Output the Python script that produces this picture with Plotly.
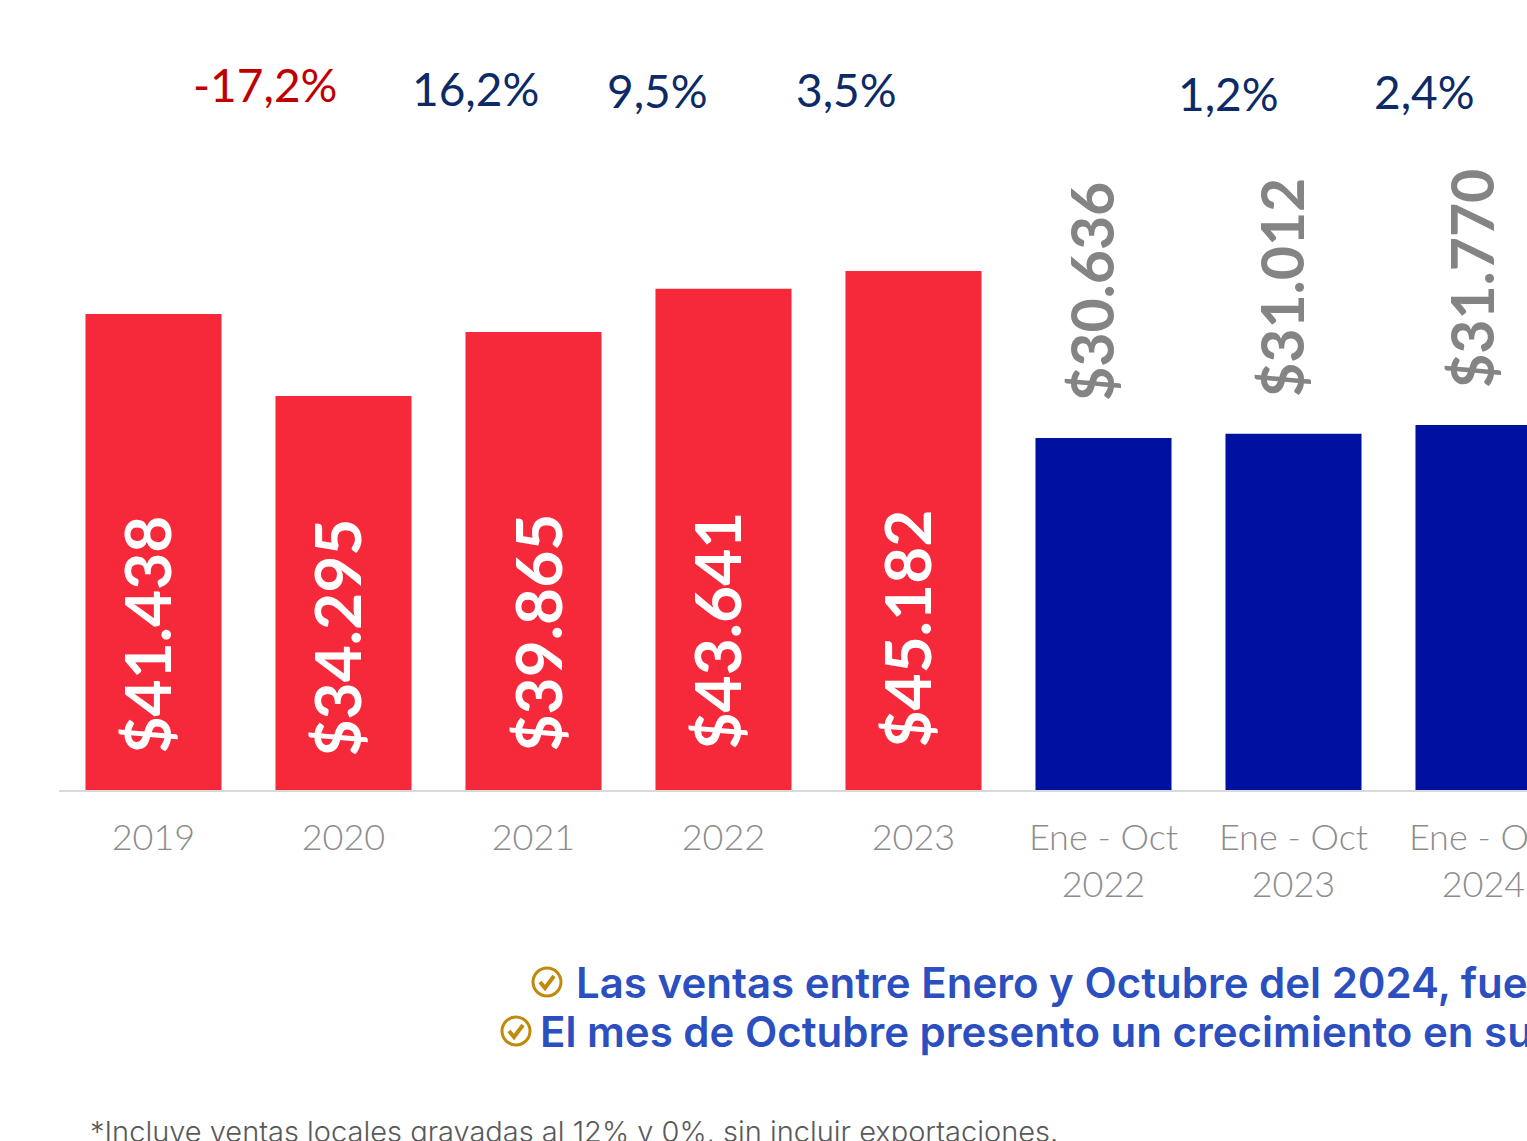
import plotly.graph_objects as go

W, H = 1527, 1141
L, BASE = 59, 790
PW = W - L

categories = ["2019", "2020", "2021", "2022", "2023", "Ene - Oct<br>2022", "Ene - Oct<br>2023", "Ene - Oct<br>2024"]
annual_values = [41438, 34295, 39865, 43641, 45182, None, None, None]
ytd_values = [None, None, None, None, None, 30636, 31012, 31770]
value_labels = ["$41.438", "$34.295", "$39.865", "$43.641", "$45.182", "$30.636", "$31.012", "$31.770"]
growth_labels = ["-17,2%", "16,2%", "9,5%", "3,5%", "1,2%", "2,4%"]
notes = ["Las ventas entre Enero y Octubre del 2024, fue",
         "El mes de Octubre presento un crecimiento en su"]
footnote = "*Incluye ventas locales gravadas al 12% y 0%, sin incluir exportaciones."

RED, BLUE = "#F5293A", "#0010A0"
NAVY, DARKRED = "#0B2A66", "#C00000"
GREY, TICK, GOLD, NOTE = "#848484", "#8C8C8C", "#C08A0A", "#2C4FBF"
FONT = "Lato"


def px(x):
    return (x - L) / PW


def py(y):
    return (BASE - y) / BASE


fig = go.Figure()
for vals, col in ((annual_values, RED), (ytd_values, BLUE)):
    fig.add_bar(x=categories, y=vals, marker=dict(color=col, line_width=0), width=0.716, showlegend=False)

annotations = []
label_dx = [-8, -8, 3, -8, -8, -12, -12, -12]
label_bottom = [756, 759, 754, 752, 750, 403, 399, 390]
for i, lab in enumerate(value_labels):
    annotations.append(dict(
        x=i, y=0, xref="x", yref="y", text=lab, textangle=-90, showarrow=False,
        xanchor="center", yanchor="bottom", xshift=label_dx[i], yshift=BASE - label_bottom[i],
        font=dict(family=FONT, size=64 if i < 5 else 59, weight=700, color="white" if i < 5 else GREY),
    ))

growth_x = [265, 475, 657, 846, 1228, 1424]
growth_y = [84, 88, 90, 89, 94, 92]
for i, lab in enumerate(growth_labels):
    annotations.append(dict(
        x=px(growth_x[i]), y=py(growth_y[i]), xref="paper", yref="paper", text=lab, showarrow=False,
        xanchor="center", yanchor="middle",
        font=dict(family=FONT, size=46, weight=400, color=DARKRED if i == 0 else NAVY),
    ))

annotations.append(dict(x=px(574), y=py(982), xref="paper", yref="paper", text=notes[0], showarrow=False,
                        xanchor="left", yanchor="middle", font=dict(family="Inter", size=42, weight=600, color=NOTE)))
annotations.append(dict(x=px(538), y=py(1031), xref="paper", yref="paper", text=notes[1], showarrow=False,
                        xanchor="left", yanchor="middle", font=dict(family="Inter", size=42, weight=600, color=NOTE)))
annotations.append(dict(x=px(88), y=py(1131), xref="paper", yref="paper", text=footnote, showarrow=False,
                        xanchor="left", yanchor="middle", font=dict(family="Inter", size=29, weight=300, color="#595959")))

shapes = []
for cx, cy in ((547, 982), (516, 1031)):
    shapes.append(dict(type="circle", xref="paper", yref="paper", x0=px(cx - 14), x1=px(cx + 14),
                       y0=py(cy + 14), y1=py(cy - 14), line=dict(color=GOLD, width=3)))
    shapes.append(dict(type="path", xref="paper", yref="paper",
                       path=f"M {px(cx-7)} {py(cy)} L {px(cx-2)} {py(cy+6)} L {px(cx+7)} {py(cy-6)}",
                       line=dict(color=GOLD, width=4)))

fig.update_layout(
    width=W, height=H, margin=dict(l=L, r=0, t=0, b=H - BASE, pad=0),
    paper_bgcolor="white", plot_bgcolor="white", barmode="overlay",
    annotations=annotations, shapes=shapes,
    xaxis=dict(type="category", categoryorder="array", categoryarray=categories, automargin=False,
               range=[-94.5 / 190, (W - 153.5) / 190], showgrid=False, zeroline=False, showline=True,
               linecolor="#D9D9D9", linewidth=2, ticks="outside", ticklen=15, tickcolor="rgba(0,0,0,0)",
               tickangle=0, tickfont=dict(family=FONT, size=36, weight=300, color=TICK)),
    yaxis=dict(visible=False, automargin=False, range=[0, BASE / 0.011487]),
)

fig.write_html("out.html", config={"displayModeBar": False}, post_script="document.body.style.margin='0';")
